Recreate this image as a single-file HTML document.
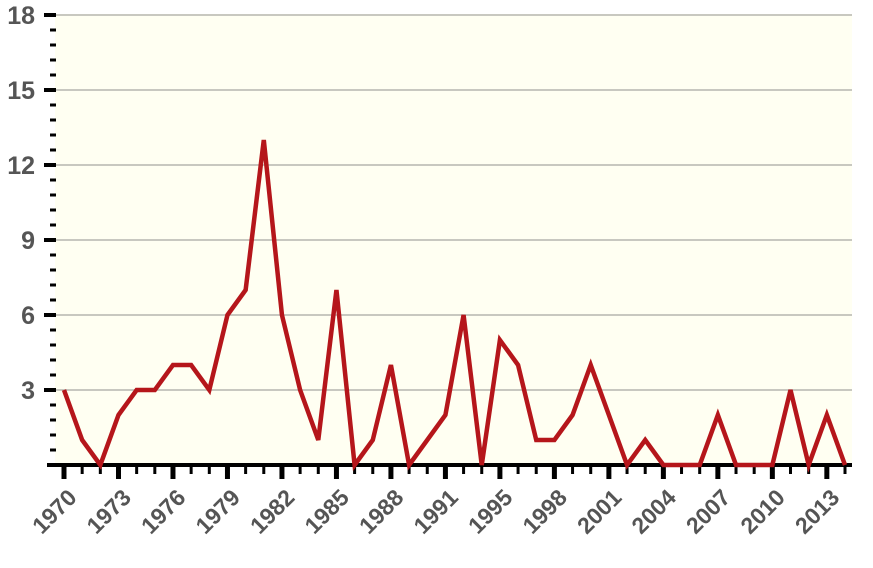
<!DOCTYPE html>
<html><head><meta charset="utf-8"><style>
html,body{margin:0;padding:0;background:#fff;width:873px;height:568px;overflow:hidden}
svg text{font-family:"Liberation Sans",sans-serif;font-weight:bold;fill:#555}
</style></head><body>
<svg id="chart" width="873" height="568" xmlns="http://www.w3.org/2000/svg"></svg>
<script>
const years = [1970,1971,1972,1973,1974,1975,1976,1977,1978,1979,1980,1981,1982,1983,1984,1985,1986,1987,1988,1989,1990,1991,1992,1993,1995,1996,1997,1998,1999,2000,2001,2002,2003,2004,2005,2006,2007,2008,2009,2010,2011,2012,2013,2014];
const values = [3,1,0,2,3,3,4,4,3,6,7,13,6,3,1,7,0,1,4,0,1,2,6,0,5,4,1,1,2,4,2,0,1,0,0,0,2,0,0,0,3,0,2,0];
const yTicks = [3,6,9,12,15,18];
const labelYears = [1970,1973,1976,1979,1982,1985,1988,1991,1995,1998,2001,2004,2007,2010,2013];

const svg = document.getElementById('chart');
const NS = 'http://www.w3.org/2000/svg';
const x0 = 64, x1 = 845, yBase = 465, yTop = 15, yMax = 18;
const xs = i => x0 + (x1 - x0) * i / (years.length - 1);
const ys = v => yBase - (yBase - yTop) * v / yMax;
function mk(tag, attrs){const e=document.createElementNS(NS,tag);for(const k in attrs)e.setAttribute(k,attrs[k]);svg.appendChild(e);return e;}

let bg = mk('rect',{x:55,y:yTop,width:797,height:yBase-yTop,fill:'#fffff2'});



yTicks.forEach(t=>{
  const g = mk('line',{x1:55,x2:852,y1:ys(t),y2:ys(t),stroke:'#c8c8c0','stroke-width':2});
  
  
  const tk = mk('line',{x1:44,x2:56,y1:ys(t),y2:ys(t),stroke:'#000','stroke-width':4});
  
  
  const lb = mk('text',{x:35,y:ys(t)+9,'text-anchor':'end','font-size':25});
  lb.textContent = t;
  
  
});
for(let t=0;t<yMax;t+=3){
  for(let k=1;k<5;k++){
    const m = mk('line',{x1:50,x2:56,y1:ys(t+k*0.6),y2:ys(t+k*0.6),stroke:'#000','stroke-width':3});
    
    
  }
}

const ax = mk('line',{x1:47,x2:852,y1:yBase,y2:yBase,stroke:'#000','stroke-width':4});



years.forEach((yr,i)=>{
  const major = labelYears.includes(yr);
  const t = mk('line',{x1:xs(i),x2:xs(i),y1:yBase,y2:major?479:474,stroke:'#000','stroke-width':major?5:3});
  
  
  if(major){
    const tx = xs(i)+14, ty = 499;
    const lb = mk('text',{x:tx,y:ty,'text-anchor':'end','font-size':23,transform:`rotate(-45 ${tx} ${ty})`});
    lb.textContent = yr;
    
    
  }
});

const pts = values.map((v,i)=>xs(i)+','+ys(v)).join(' ');
const line = mk('polyline',{points:pts,fill:'none',stroke:'#b5161b','stroke-width':4.5,'stroke-linejoin':'miter'});


</script>
</body></html>
